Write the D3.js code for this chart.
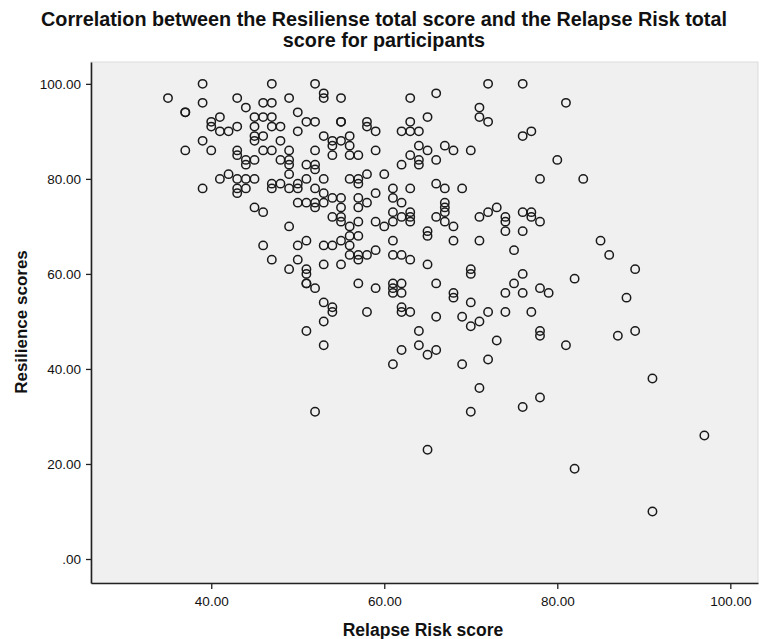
<!DOCTYPE html>
<html><head><meta charset="utf-8">
<script src="https://cdn.jsdelivr.net/npm/d3@7"></script>
<style>body{margin:0;background:#fff;font-family:"Liberation Sans",Arial,sans-serif;}</style>
</head><body>
<svg id="chart" width="764" height="639"></svg>
<script>
const titleLines = ["Correlation between the Resiliense total score and the Relapse Risk total", "score for participants"];
const xLabel = "Relapse Risk score";
const yLabel = "Resilience scores";
const xTicks = [40, 60, 80, 100];
const yTicks = [0, 20, 40, 60, 80, 100];
// [Relapse Risk score, Resilience score] per participant
const participantScores = [
[39,100],[35,97],[43,97],[39,96],[37,94],[37,94],[44,95],[41,93],[40,92],[40,91],[43,91],[41,90],[42,90],[39,88],[37,86],[40,86],[43,86],[43,85],[44,84],[44,83],[41,80],[42,81],[43,80],[44,80],[39,78],[43,78],[44,78],[43,77],[45,91],[45,89],[45,88],[45,74],[46,73],
[47,100],[52,100],[53,98],[53,97],[49,97],[55,97],[63,97],[46,96],[47,96],[50,94],[45,93],[46,93],[47,93],[65,93],[51,92],[52,92],[55,92],[55,92],[58,92],[58,91],[63,92],[47,91],[48,91],[50,90],[59,90],[62,90],[63,90],[64,90],[46,89],[53,89],[54,88],[55,88],[56,89],[54,87],[56,87],[48,88],[64,87],[65,86],[46,86],[47,86],[49,86],[52,86],[59,86],[54,85],[56,85],[57,85],[63,85],[64,84],[64,83],[62,83],[48,84],[49,84],[49,83],[45,84],[51,83],[52,83],[52,82],[49,81],[51,80],[53,80],[56,80],[57,80],[57,79],[58,81],[60,81],[47,79],[47,78],[48,79],[49,78],[50,79],[50,78],[45,80],[52,78],[61,78],[63,78],[53,77],[59,77],[54,76],[55,76],[57,76],[61,76],[50,75],[51,75],[52,75],[53,75],[52,74],[55,74],[57,74],[58,75],[62,75],[61,73],[63,73],[62,72],[63,72],[54,72],[55,72],[55,71],[57,71],[59,71],[60,70],[61,71],[63,71],[49,70],[56,70],[65,69],[65,68],[56,68],[57,68],[51,67],[55,67],
[72,100],[76,100],[66,98],[81,96],[71,95],[71,93],[72,92],[76,89],[77,90],[67,87],[68,86],[70,86],[66,84],[80,84],[78,80],[83,80],[66,79],[67,78],[69,78],[67,75],[67,74],[67,73],[66,72],[67,71],[68,70],[71,72],[72,73],[73,74],[74,72],[74,71],[74,69],[76,73],[77,73],[77,72],[78,71],[76,69],[68,67],[71,67],[85,67],
[46,66],[47,63],[50,66],[53,66],[54,66],[56,66],[56,64],[57,64],[57,63],[58,64],[59,65],[50,63],[49,61],[51,61],[51,60],[51,58],[51,58],[52,57],[53,62],[55,62],[61,67],[61,64],[62,64],[63,63],[65,62],[57,58],[59,57],[61,58],[61,57],[61,56],[62,58],[62,56],[53,54],[54,53],[54,52],[58,52],[62,53],[62,52],[63,52],[53,50],[51,48],[53,45],[64,48],[64,45],[65,43],[62,44],[61,41],[52,31],
[75,65],[70,61],[70,60],[66,58],[68,56],[68,55],[70,54],[76,60],[75,58],[74,56],[76,56],[78,57],[79,56],[82,59],[66,51],[69,51],[70,49],[71,50],[72,52],[74,52],[77,52],[78,48],[78,47],[81,45],[73,46],[66,44],[69,41],[72,42],[71,36],[78,34],[76,32],[70,31],
[86,64],[89,61],[88,55],[87,47],[89,48],[91,38],[65,23],[82,19],[97,26],[91,10]
];
const points = participantScores.map(([rr, res]) => ({x: rr, y: res}));

const svg = d3.select("#chart");
const x = d3.scaleLinear().domain([26.1, 103.2]).range([91, 758]);
const y = d3.scaleLinear().domain([-5.05, 104.6]).range([583, 62]);
const fmt = d => d === 0 ? ".00" : d3.format(".2f")(d);

svg.append("rect").attr("x", 91).attr("y", 62).attr("width", 667).attr("height", 521)
  .attr("fill", "#f0f0f0").attr("stroke", "#dcdcdc").attr("stroke-width", 1);

const xAxis = svg.append("g").attr("transform", "translate(0,583)")
  .call(d3.axisBottom(x).tickValues(xTicks).tickFormat(fmt).tickSize(6).tickSizeOuter(0));
const yAxis = svg.append("g").attr("transform", "translate(91,0)")
  .call(d3.axisLeft(y).tickValues(yTicks).tickFormat(fmt).tickSize(5).tickSizeOuter(0));
[xAxis, yAxis].forEach(g => {
  g.select(".domain").attr("stroke", "#222").attr("stroke-width", 1.6);
  g.selectAll(".tick line").attr("stroke", "#222").attr("stroke-width", 1.3);
  g.selectAll("text").attr("font-family", "'Liberation Sans', Arial, sans-serif")
   .attr("font-size", 13.5).attr("fill", "#111");
});
xAxis.selectAll("text").attr("dy", "1.0em");
yAxis.selectAll("text").attr("dx", "-0.15em");

svg.append("g").selectAll("circle").data(points).join("circle")
  .attr("cx", d => x(d.x)).attr("cy", d => y(d.y)).attr("r", 4.2)
  .attr("fill", "none").attr("stroke", "#1a1a1a").attr("stroke-width", 1.5);

svg.append("g").selectAll("text").data(titleLines).join("text")
  .attr("x", 384).attr("y", (d, i) => 26 + i * 21)
  .attr("text-anchor", "middle").attr("font-weight", "bold").attr("font-size", 19.8)
  .attr("fill", "#111").text(d => d);

svg.append("text").attr("x", 423).attr("y", 636).attr("text-anchor", "middle")
  .attr("font-weight", "bold").attr("font-size", 17.5).attr("fill", "#111").text(xLabel);
svg.append("text").attr("transform", "translate(27,322) rotate(-90)").attr("text-anchor", "middle")
  .attr("font-weight", "bold").attr("font-size", 17).attr("fill", "#111").text(yLabel);
</script>
</body></html>
